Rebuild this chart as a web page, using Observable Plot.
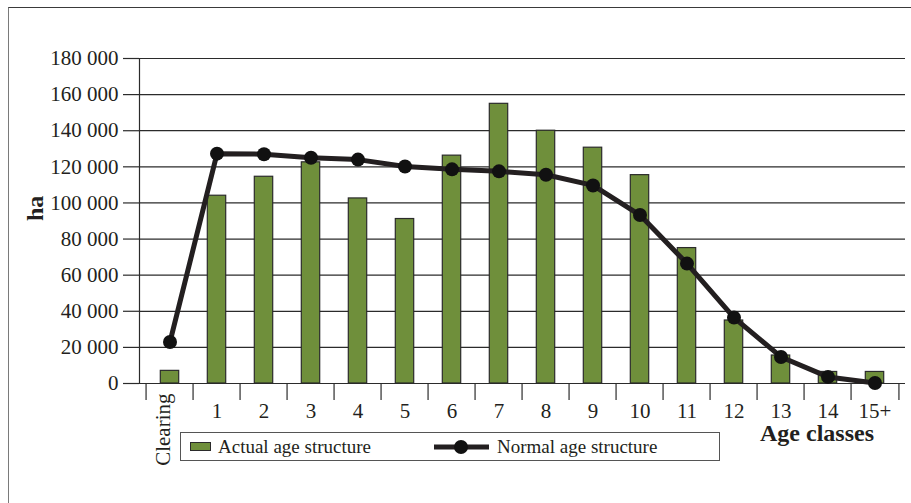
<!DOCTYPE html>
<html>
<head>
<meta charset="utf-8">
<script src="https://cdn.jsdelivr.net/npm/d3@7"></script>
<script src="https://cdn.jsdelivr.net/npm/@observablehq/plot@0.6"></script>
<style>
  html, body { margin: 0; padding: 0; background: #fff; }
  #wrap { position: relative; width: 911px; height: 503px; overflow: hidden; background: #fff; font-family: "Liberation Serif", serif; color: #231f20; }
  #border { position: absolute; left: 8px; top: 7px; right: -5px; bottom: -5px; border-left: 1.5px solid #7a7a7a; border-top: 1.5px solid #3a3a3a; }
  #chart { position: absolute; left: 0; top: 0; }
  #legend { position: absolute; left: 180px; top: 432px; width: 538px; height: 27px; border: 1.5px solid #555; background: #fff; font-size: 19px; }
  #legend .item { position: absolute; top: 0; height: 27px; display: flex; align-items: center; }
  #legend .sw { width: 19px; height: 7px; background: #6f8f3b; border: 1px solid #2b2b2b; margin-right: 7px; }
</style>
</head>
<body>
<div id="wrap">
  <div id="border"></div>
  <div id="chart"></div>
  <div id="legend">
    <div class="item" style="left:9px"><div class="sw"></div><span id="lab1"></span></div>
    <div class="item" style="left:252px"><svg width="58" height="20" style="margin-right:6px"><line x1="1" y1="10" x2="56" y2="10" stroke="#231f20" stroke-width="5"/><circle cx="28" cy="10" r="7" fill="#111"/></svg><span id="lab2"></span></div>
  </div>
</div>
<script>
const categories = ["Clearing","1","2","3","4","5","6","7","8","9","10","11","12","13","14","15+"];
const actualValues = [7000,104000,114500,122500,102500,91100,126200,154900,140000,130600,115400,75000,34900,15500,6400,6400];
const normalValues = [23000,127300,127000,125000,124000,120200,118600,117500,115600,109700,93300,66400,36500,14700,3650,300];
const yTicks = [0,20000,40000,60000,80000,100000,120000,140000,160000,180000];
const seriesNames = ["Actual age structure","Normal age structure"];
const xTitle = "Age classes";
const yTitle = "ha";

document.getElementById("lab1").textContent = seriesNames[0];
document.getElementById("lab2").textContent = seriesNames[1];

const data = categories.map((c, i) => ({cat: c, actual: actualValues[i], normal: normalValues[i]}));
const fmt = d => d3.format(",")(d).replace(/,/g, " ");

const W = 911, H = 503, mL = 139, mR = 6, mT = 58, mB = 120;
const bw = (W - mL - mR) / categories.length;
const gridColor = "#2b2b2b";

const chart = Plot.plot({
  width: W, height: H,
  marginLeft: mL, marginRight: mR, marginTop: mT, marginBottom: mB,
  style: {fontFamily: "Liberation Serif, serif", fontSize: "21px", color: "#231f20", background: "transparent", overflow: "visible"},
  x: {domain: categories, padding: 0, axis: null},
  y: {domain: [0, 180000], axis: null},
  marks: [
    Plot.gridY(yTicks, {stroke: gridColor, strokeOpacity: 1, strokeWidth: 1.2}),
    Plot.axisY(yTicks, {tickSize: 16, tickPadding: 5, tickFormat: fmt, stroke: gridColor, strokeWidth: 1.2, label: null, fontSize: 21}),
    Plot.frame({anchor: "left", stroke: gridColor, strokeWidth: 1.2}),
    Plot.axisX(categories, {tickSize: 17, tickFormat: () => "", dx: -bw / 2, stroke: gridColor, strokeWidth: 1.2, label: null}),
    Plot.axisX([categories[categories.length - 1]], {tickSize: 17, tickFormat: () => "", dx: bw / 2, stroke: gridColor, strokeWidth: 1.2, label: null}),
    Plot.axisX(categories.slice(1), {tickSize: 0, tickPadding: 20, label: null, fontSize: 21}),
    Plot.text([categories[0]], {x: d => d, frameAnchor: "bottom", rotate: -90, textAnchor: "end", dy: 10, fontSize: 21, fill: "#231f20"}),
    Plot.barY(data, {x: "cat", y: "actual", fill: "#6f8f3b", stroke: gridColor, strokeWidth: 1.2, insetLeft: 14.3, insetRight: 14.3}),
    Plot.line(data, {x: "cat", y: "normal", stroke: "#231f20", strokeWidth: 5}),
    Plot.dot(data, {x: "cat", y: "normal", r: 7, fill: "#111", stroke: "none"}),
    Plot.text([xTitle], {x: () => categories[categories.length - 1], frameAnchor: "bottom", textAnchor: "end", lineAnchor: "bottom", dy: 57, dx: -1, fontWeight: "bold", fontSize: 24, fill: "#231f20"}),
    Plot.text([yTitle], {frameAnchor: "left", rotate: -90, dx: -104, fontWeight: "bold", fontSize: 24, fill: "#231f20"})
  ]
});
document.getElementById("chart").appendChild(chart);
</script>
</body>
</html>
